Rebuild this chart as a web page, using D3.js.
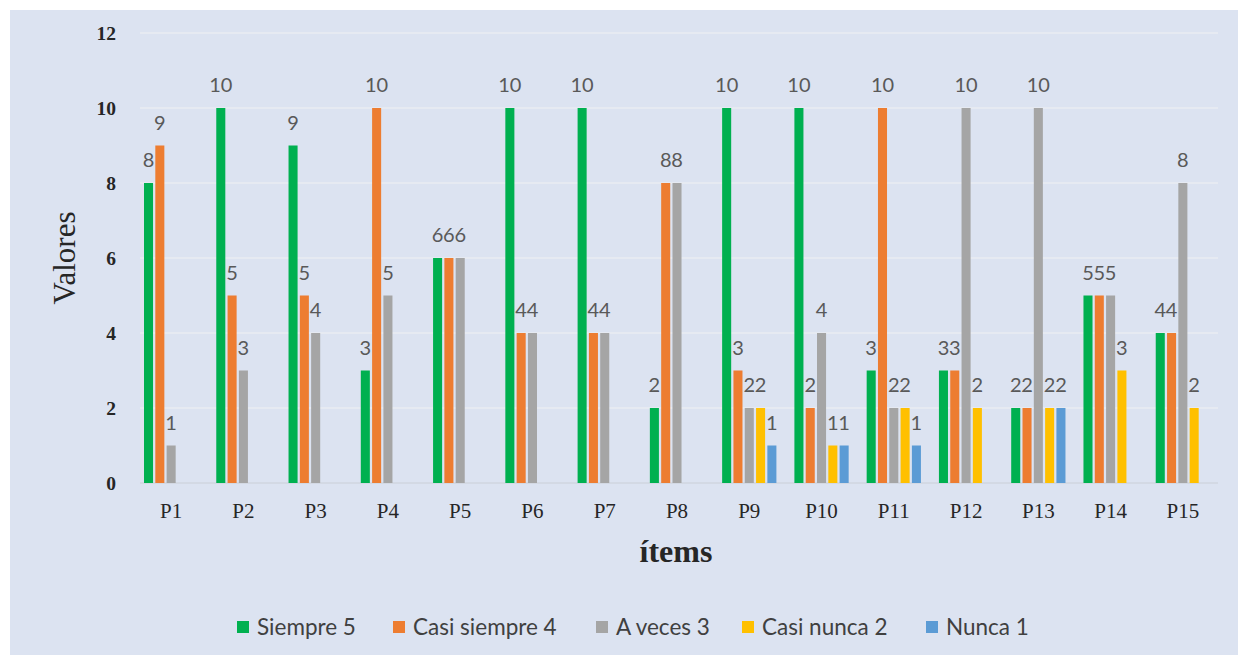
<!DOCTYPE html>
<html><head><meta charset="utf-8">
<script src="https://cdn.jsdelivr.net/npm/d3@7/dist/d3.min.js"></script>
<style>
html,body{margin:0;padding:0;background:#fff;}
svg{display:block;}
</style></head>
<body>
<svg id="chart" width="1238" height="655"></svg>
<script>
const categories = ["P1","P2","P3","P4","P5","P6","P7","P8","P9","P10","P11","P12","P13","P14","P15"];
const seriesNames = ["Siempre 5","Casi siempre 4","A veces 3","Casi nunca 2","Nunca 1"];
const siempre5     = [8,10,9,3,6,10,10,2,10,10,3,3,2,5,4];
const casiSiempre4 = [9,5,5,10,6,4,4,8,3,2,10,3,2,5,4];
const aVeces3      = [1,3,4,5,6,4,4,8,2,4,2,10,10,5,8];
const casiNunca2   = [0,0,0,0,0,0,0,0,2,1,2,2,2,3,2];
const nunca1       = [0,0,0,0,0,0,0,0,1,1,1,0,2,0,0];
const yTicks = [0,2,4,6,8,10,12];
const colors = ["#00b050","#ed7d31","#a5a5a5","#ffc000","#5b9bd5"];
const seriesValues = [siempre5, casiSiempre4, aVeces3, casiNunca2, nunca1];

const svg = d3.select("#chart");
svg.append("rect").attr("x",10).attr("y",10).attr("width",1228).attr("height",645).attr("fill","#dce3f1");

const x0 = d3.scaleBand().domain(categories).range([135,1219]).paddingInner(0).paddingOuter(0);
const bw = x0.bandwidth();
const x1 = d3.scaleBand().domain(seriesNames).range([9, bw-9]).paddingInner(0.2).paddingOuter(0);
const y = d3.scaleLinear().domain([0,12]).range([483,33]);

// grid
svg.append("g").selectAll("line").data(yTicks).join("line")
  .attr("x1",140).attr("x2",1218)
  .attr("y1",d=>y(d)).attr("y2",d=>y(d))
  .attr("stroke",d=>d===0?"#d3d9e4":"#e6eaf2").attr("stroke-width",2);

// y axis labels
const yAxis = d3.axisLeft(y).tickValues(yTicks).tickSize(0).tickPadding(0);
const gy = svg.append("g").attr("transform","translate(116,0)").call(yAxis);
gy.select(".domain").remove();
gy.selectAll("text").attr("font-family","'Liberation Serif','DejaVu Serif',serif")
  .attr("font-weight","bold").attr("font-size",19.5).attr("fill","#262626").attr("dy","0.35em");

// x axis labels
const xAxis = d3.axisBottom(x0).tickSize(0).tickPadding(0);
const gx = svg.append("g").attr("transform","translate(0,503)").call(xAxis);
gx.select(".domain").remove();
gx.selectAll("text").attr("font-family","'Liberation Serif','DejaVu Serif',serif")
  .attr("font-size",21).attr("fill","#262626").attr("dy","0.7em");

// bars
const groups = svg.append("g").selectAll("g").data(categories).join("g")
  .attr("transform",d=>`translate(${x0(d)},0)`);
seriesNames.forEach((s,si)=>{
  groups.append("rect")
    .attr("x",x1(s)).attr("width",x1.bandwidth())
    .attr("y",(d,i)=>y(seriesValues[si][i]))
    .attr("height",(d,i)=>y(0)-y(seriesValues[si][i]))
    .attr("fill",colors[si]);
});
seriesNames.forEach((s,si)=>{
  groups.filter((d,i)=>seriesValues[si][i]>0).append("text")
    .attr("x",x1(s)+x1.bandwidth()/2)
    .attr("y",d=>y(seriesValues[si][categories.indexOf(d)])-16)
    .attr("text-anchor","middle")
    .attr("font-family","Lato,'Open Sans',sans-serif").attr("font-size",20).attr("fill","#595959")
    .text(d=>seriesValues[si][categories.indexOf(d)]);
});

// axis titles
svg.append("text").attr("transform","translate(75,258) rotate(-90)")
  .attr("text-anchor","middle").attr("font-family","'Liberation Serif',serif")
  .attr("font-size",31).attr("fill","#262626").text("Valores");
svg.append("text").attr("x",676).attr("y",562).attr("text-anchor","middle")
  .attr("font-family","'Liberation Serif',serif").attr("font-weight","bold")
  .attr("font-size",32).attr("fill","#262626").text("ítems");

// legend
const legendX = [237,393,596,742,926];
const lg = svg.append("g").selectAll("g").data(seriesNames).join("g")
  .attr("transform",(d,i)=>`translate(${legendX[i]},627)`);
lg.append("rect").attr("x",0).attr("y",-6).attr("width",12).attr("height",12).attr("fill",(d,i)=>colors[i]);
lg.append("text").attr("x",20).attr("y",0).attr("dy","0.36em")
  .attr("font-family","Lato,'Open Sans',sans-serif").attr("font-size",22.5).attr("fill","#404040")
  .text(d=>d);
</script>
</body></html>
